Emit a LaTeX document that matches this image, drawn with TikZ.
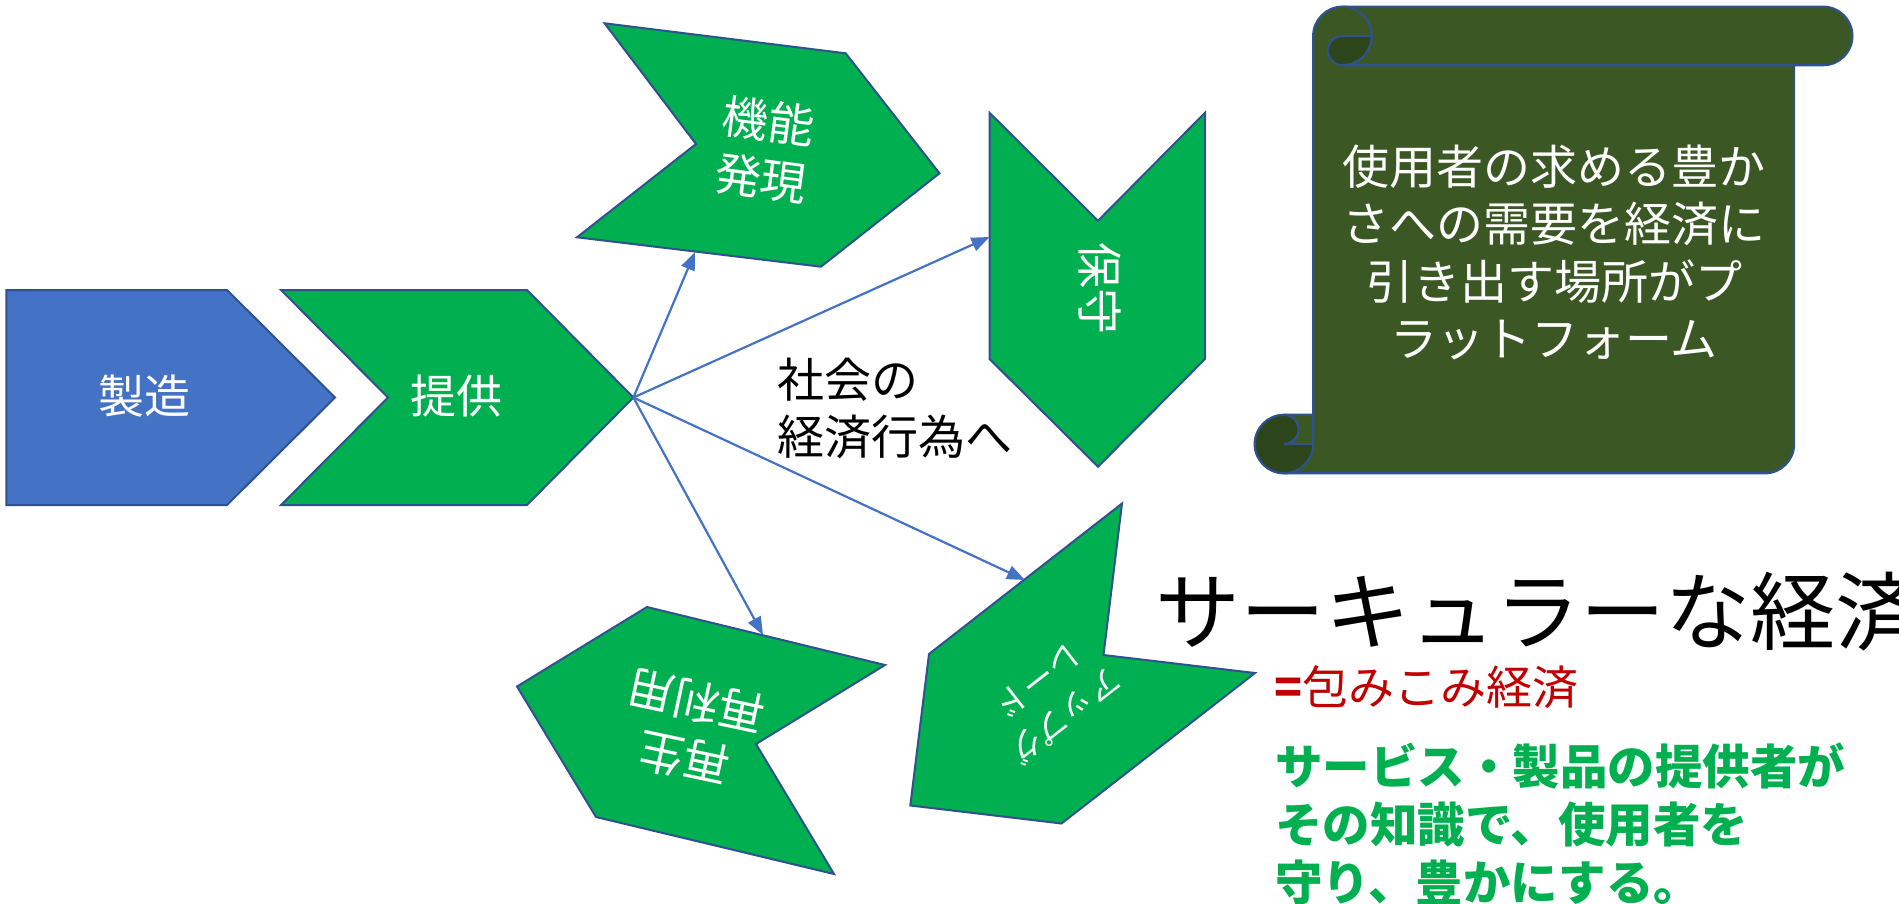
\documentclass[tikz,border=0pt]{standalone}
\usepackage{fontspec}
\setmainfont{Noto Sans CJK JP}
\usetikzlibrary{arrows.meta}
\definecolor{pptblue}{HTML}{4472C4}
\definecolor{pptgreen}{HTML}{00B050}
\definecolor{edgeblue}{HTML}{2F528F}
\definecolor{scrollfill}{HTML}{3B5724}
\definecolor{scrolldark}{HTML}{2D451B}
\definecolor{redtxt}{HTML}{C00000}
\begin{document}
\begin{tikzpicture}[x=1pt,y=-1pt,
  shapebox/.style={draw=edgeblue, line width=2pt, line join=miter},
  gshape/.style={shapebox, fill=pptgreen},
  bshape/.style={shapebox, fill=pptblue},
  lbl/.style={text=white, font=\fontsize{46}{58}\selectfont, align=center, inner sep=0pt},
  conn/.style={draw=pptblue, line width=2.2pt, -{Triangle[length=18pt,width=14pt]}},
  scrollline/.style={draw=edgeblue, line width=2.2pt},
]
\useasboundingbox (0,0) rectangle (1899,903);
\clip (0,0) rectangle (1899,903);

% --- chevrons ---
\draw[bshape] (6.3,290) -- (227,290) -- (335,397.5) -- (227,505) -- (6.3,505) -- cycle;
\draw[gshape] (281,290) -- (527,290) -- (633.4,397.5) -- (527,505) -- (281,505) -- (388,397.5) -- cycle;
\draw[gshape] (604.6,23.3) -- (845.7,53.3) -- (939.5,173.3) -- (821,266.7) -- (577,237.3) -- (696,144) -- cycle;
\draw[gshape] (989.5,112.7) -- (989.5,359) -- (1098,466.7) -- (1205,359) -- (1205,112.7) -- (1098,220.7) -- cycle;
\draw[gshape] (647,607) -- (885,665) -- (756,744) -- (834,874) -- (596,817) -- (517,686.5) -- cycle;
\draw[gshape] (1122,503.5) -- (1103.5,655) -- (1255,673) -- (1061.5,823.5) -- (910.3,805.5) -- (929,654) -- cycle;

\node[lbl] (seizo) at (144,396) {製造};
\node[lbl] (teikyo) at (456.6,396) {提供};
\node[lbl, rotate=-7.5] (kino) at (765,150) {機能\\発現};
\node[lbl, rotate=-90] (hoshu) at (1100,288) {保守};
\node[lbl, rotate=168] (saisei) at (690,730) {再生\\再利用};
\node[lbl, rotate=218, font=\fontsize{33}{45}\selectfont] (upg) at (1052,699) {アップグ\\レード};

% --- connectors ---
\coordinate (hub) at (633.4,397.5);
\coordinate (kino-in) at (695,252);
\coordinate (hoshu-in) at (989.5,237);
\coordinate (upg-in) at (1025,580);
\coordinate (saisei-in) at (763,635);
\draw[conn] (hub) -- (kino-in);
\draw[conn] (hub) -- (hoshu-in);
\draw[conn] (hub) -- (upg-in);
\draw[conn] (hub) -- (saisei-in);

\node[inner sep=0pt, anchor=north west, align=left, font=\fontsize{47}{57}\selectfont] (social) at (777,358) {社会の\\経済行為へ};

% --- scroll ---
\fill[scrollfill] (1342.45,6.7) -- (1823.15,6.7) arc[start angle=-90, end angle=90, radius=29.25]
  -- (1794.1,65.2) -- (1794.1,444.05) arc[start angle=0, end angle=90, radius=29.25]
  -- (1283.95,473.3) arc[start angle=90, end angle=270, radius=29.25]
  -- (1313.2,414.8) -- (1313.2,35.95) arc[start angle=180, end angle=270, radius=29.25] -- cycle;
% dark parts
\fill[scrolldark] (1342.45,35.95) -- (1371.7,35.95) arc[start angle=0, end angle=90, radius=29.25]
  arc[start angle=90, end angle=270, radius=14.625] -- cycle;
\fill[scrolldark] (1283.95,414.8) arc[start angle=270, end angle=0, radius=29.25]
  -- (1283.95,444.05) arc[start angle=90, end angle=-90, radius=14.625] -- cycle;
% outlines
\draw[scrollline, line join=round] (1342.45,6.7) -- (1823.15,6.7) arc[start angle=-90, end angle=90, radius=29.25]
  -- (1794.1,65.2) -- (1794.1,444.05) arc[start angle=0, end angle=90, radius=29.25]
  -- (1283.95,473.3) arc[start angle=90, end angle=270, radius=29.25]
  -- (1313.2,414.8) -- (1313.2,35.95) arc[start angle=180, end angle=270, radius=29.25] -- cycle;
\draw[scrollline] (1342.45,6.7) arc[start angle=-90, end angle=90, radius=29.25] -- (1794.1,65.2);
\draw[scrollline] (1371.7,35.95) -- (1342.45,35.95) arc[start angle=270, end angle=90, radius=14.625];
\draw[scrollline] (1283.95,414.8) arc[start angle=-90, end angle=90, radius=14.625] -- (1313.2,444.05);
\draw[scrollline] (1313.2,414.8) -- (1313.2,444.05) arc[start angle=0, end angle=90, radius=29.25];

\node[lbl, font=\fontsize{47}{57.5}\selectfont] (scrolltext) at (1554,252.5)
  {使用者の求める豊か\\さへの需要を経済に\\引き出す場所がプ\\ラットフォーム};

% --- right texts ---
\node[inner sep=0pt, anchor=west, font=\fontsize{85}{100}\selectfont] (circ) at (1155,612) {サーキュラーな経済};
\node[inner sep=0pt, anchor=west, text=redtxt, font=\fontsize{46}{56}\selectfont] (tsutsumi) at (1274,687) {{\bfseries =}包みこみ経済};
\node[inner sep=0pt, anchor=north west, align=left, text=pptgreen, font=\fontsize{47.5}{58}\selectfont\bfseries] (message) at (1275,743)
  {サービス・製品の提供者が\\その知識で、使用者を\\守り、豊かにする。};
\end{tikzpicture}
\end{document}
